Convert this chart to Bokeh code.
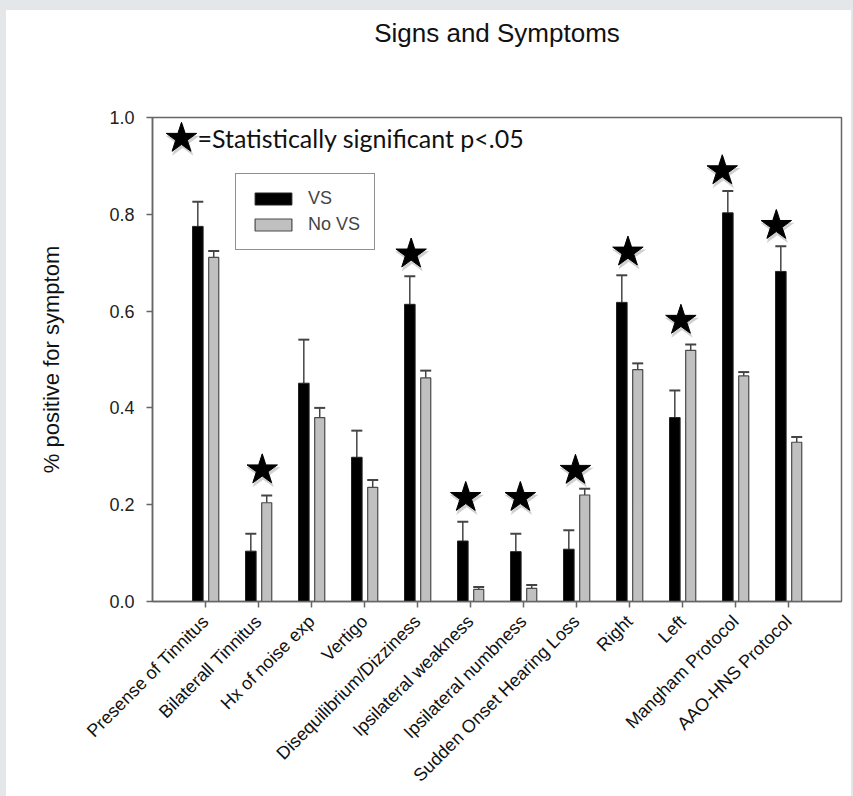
from bokeh.plotting import figure
from bokeh.models import (ColumnDataSource, Range1d, FixedTicker, Whisker, TeeHead,
                          Legend, LegendItem, Label, Div)
from bokeh.layouts import column
from bokeh.embed import file_html
from bokeh.resources import INLINE
import math

title_text = "Signs and Symptoms"
categories = ["Presense of Tinnitus", "Bilaterall Tinnitus", "Hx of noise exp", "Vertigo",
              "Disequilibrium/Dizziness", "Ipsilateral weakness", "Ipsilateral numbness",
              "Sudden Onset Hearing Loss", "Right", "Left", "Mangham Protocol", "AAO-HNS Protocol"]
vs_values = [0.775, 0.104, 0.451, 0.298, 0.614, 0.125, 0.103, 0.108, 0.618, 0.380, 0.803, 0.682]
vs_errors = [0.051, 0.036, 0.090, 0.055, 0.058, 0.040, 0.037, 0.039, 0.056, 0.056, 0.045, 0.052]
novs_values = [0.711, 0.204, 0.380, 0.236, 0.462, 0.025, 0.027, 0.220, 0.479, 0.519, 0.466, 0.329]
novs_errors = [0.013, 0.015, 0.020, 0.015, 0.015, 0.005, 0.007, 0.013, 0.013, 0.012, 0.008, 0.011]
# significance stars: height of star marker (None = not significant) and horizontal nudge
star_y = [None, 0.272, None, None, 0.718, 0.215, 0.215, 0.271, 0.722, 0.581, 0.890, 0.777]
star_dx = [0.0, 0.07, 0.0, 0.0, -0.12, -0.09, -0.06, -0.02, -0.03, -0.03, -0.25, -0.23]
y_ticks = [0.0, 0.2, 0.4, 0.6, 0.8, 1.0]

FONT = "Liberation Sans"
n = len(categories)
xs = list(range(1, n + 1))

# title strip above the chart
title_div = Div(
    text=('<div style="display:block;width:845px;box-sizing:border-box;'
          'font-family:\'Liberation Sans\';font-size:26px;line-height:26px;'
          'padding-top:10px;padding-left:137px;text-align:center;color:#111111;'
          'white-space:nowrap;">' + title_text + '</div>'),
    width=845, height=40, margin=(10, 2, 0, 6),
    styles={"background-color": "white", "overflow": "hidden"})

p = figure(width=845, height=746, x_range=Range1d(0, n + 1), y_range=Range1d(0, 1.0),
           output_backend="svg", toolbar_location=None,
           min_border_left=146, min_border_right=10, min_border_top=67, min_border_bottom=195,
           background_fill_color="white", border_fill_color="white")
p.margin = (0, 2, 0, 6)

p.xgrid.visible = False
p.ygrid.visible = False
p.outline_line_color = "#666666"
p.outline_line_width = 1.5

vs_src = ColumnDataSource(dict(x=[x - 0.145 for x in xs], top=vs_values,
                               up=[v + e for v, e in zip(vs_values, vs_errors)]))
no_src = ColumnDataSource(dict(x=[x + 0.155 for x in xs], top=novs_values,
                               up=[v + e for v, e in zip(novs_values, novs_errors)]))

r_vs = p.vbar(x="x", top="top", width=0.2, bottom=0, source=vs_src,
              fill_color="black", line_color="#222222", line_width=1)
r_no = p.vbar(x="x", top="top", width=0.19, bottom=0, source=no_src,
              fill_color="#c0c0c0", line_color="#4a4a4a", line_width=1.2)

for src in (vs_src, no_src):
    w = Whisker(base="x", lower="top", upper="up", source=src,
                line_color="#444444", line_width=1.5,
                upper_head=TeeHead(size=11, line_color="#444444", line_width=2),
                lower_head=None)
    p.add_layout(w)

sx = [x + d for x, d, y in zip(xs, star_dx, star_y) if y is not None]
sy = [y for y in star_y if y is not None]
p.scatter(x=[v + 0.02 for v in sx], y=[v - 0.006 for v in sy], marker="star", size=36,
          fill_color="#777777", fill_alpha=0.35, line_color=None)
p.scatter(x=sx, y=sy, marker="star", size=32, fill_color="black", line_color="black")

# key for the star symbol
p.scatter(x=[0.57], y=[0.951], marker="star", size=36,
          fill_color="#777777", fill_alpha=0.35, line_color=None)
p.scatter(x=[0.547], y=[0.957], marker="star", size=32, fill_color="black", line_color="black")
p.add_layout(Label(x=0.85, y=0.957, text="=Statistically significant p<.05",
                   text_font="Lato", text_font_size="25px", text_baseline="middle",
                   text_color="#111111"))

legend = Legend(items=[LegendItem(label="VS", renderers=[r_vs]),
                       LegendItem(label="No VS", renderers=[r_no])],
                location=(83, 351), orientation="vertical",
                label_text_font=FONT, label_text_font_size="18px",
                glyph_width=46, glyph_height=15, label_height=21, spacing=5,
                padding=14, margin=0, label_standoff=12,
                border_line_color="#222222", border_line_width=1.5,
                background_fill_color="white", background_fill_alpha=1)
p.add_layout(legend)

# axes
p.xaxis.ticker = FixedTicker(ticks=xs)
p.xaxis.major_label_overrides = {x: c for x, c in zip(xs, categories)}
p.xaxis.major_label_orientation = math.pi / 4
p.xaxis.major_label_standoff = 11
p.xaxis.major_label_text_font = FONT
p.xaxis.major_label_text_font_size = "18px"
p.xaxis.major_label_text_font_style = "normal"
p.xaxis.major_label_text_color = "#111111"
p.xaxis.minor_tick_line_color = None
p.xaxis.major_tick_out = 6
p.xaxis.major_tick_in = 0
p.xaxis.axis_line_color = "#666666"
p.xaxis.axis_line_width = 1.5
p.xaxis.major_tick_line_color = "#666666"
p.xaxis.major_tick_line_width = 1.5

p.yaxis.ticker = FixedTicker(ticks=y_ticks)
p.yaxis.major_label_overrides = {t: f"{t:.1f}" for t in y_ticks}
p.yaxis.major_label_standoff = 12
p.yaxis.major_label_text_font = FONT
p.yaxis.major_label_text_font_size = "18px"
p.yaxis.major_label_text_color = "#222222"
p.yaxis.minor_tick_line_color = None
p.yaxis.major_tick_out = 6
p.yaxis.major_tick_in = 0
p.yaxis.axis_line_color = "#666666"
p.yaxis.axis_line_width = 1.5
p.yaxis.major_tick_line_color = "#666666"
p.yaxis.major_tick_line_width = 1.5
p.yaxis.axis_label = "% positive for symptom"
p.yaxis.axis_label_text_font = FONT
p.yaxis.axis_label_text_font_size = "22px"
p.yaxis.axis_label_text_font_style = "normal"
p.yaxis.axis_label_text_color = "#111111"
p.yaxis.axis_label_standoff = 42

page = column(title_div, p, width=853, height=796, spacing=0,
              styles={"background-color": "white",
                      "box-shadow": "inset 6px 10px 0 0 #e3e7e9, inset -2px 0 0 0 #e3e7e9"})

open("out.html", "w").write(file_html(page, INLINE))
